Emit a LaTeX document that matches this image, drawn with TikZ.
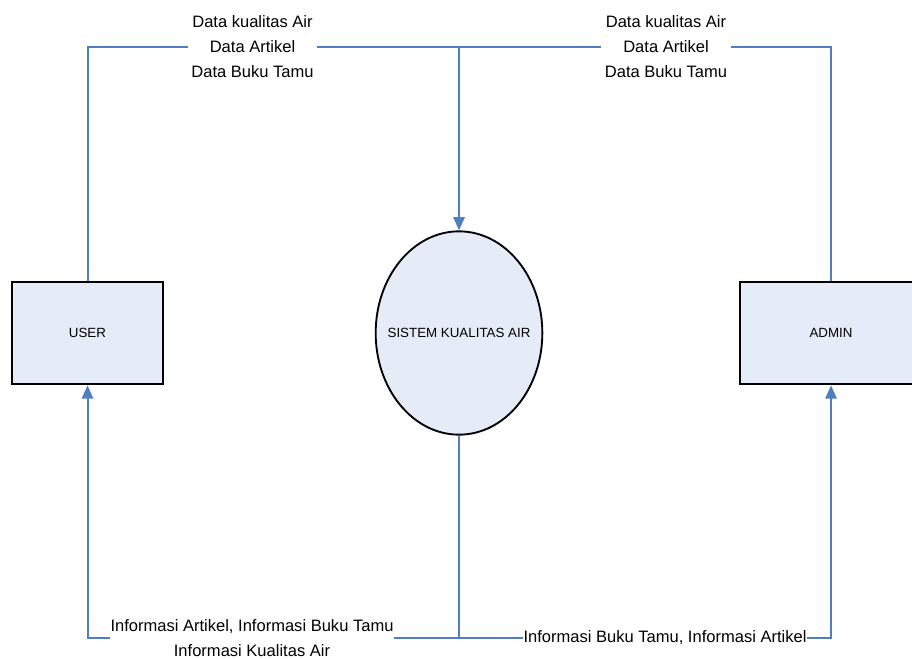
\documentclass[tikz,border=0pt]{standalone}
\usepackage{fontspec}
\setmainfont{Liberation Sans}
\usepackage{xcolor}
\usepackage{tikz}
\usetikzlibrary{arrows.meta,shapes.geometric}
\definecolor{flowblue}{HTML}{4F7EC2}
\definecolor{boxfill}{HTML}{E6ECF7}

\begin{document}
\begin{tikzpicture}[x=0.75pt,y=-0.75pt,
        every node/.style={font=\fontsize{10}{12}\selectfont},
        entity/.style={draw=black,line width=1.5pt,fill=boxfill,minimum height=77pt},
        flow/.style={draw=flowblue,line width=1.5pt},
        flowarrow/.style={flow,-{Triangle[length=10pt,width=8.5pt]}},
        flowlabel/.style={fill=white,align=center,inner xsep=2.5pt,inner ysep=0pt,
            font=\fontsize{12.4}{18.75}\selectfont}]
        \useasboundingbox (0,0) rectangle (912,659);
        % entities and process
        \node[entity,minimum width=113pt] (user) at (87.5,333) {USER};
        \node[entity,minimum width=136.5pt] (admin) at (831,333) {ADMIN};
        \node[ellipse,draw=black,line width=1.4pt,fill=boxfill,minimum width=125pt,
            minimum height=152.5pt,inner sep=0pt] (sistem) at (459,333)
            {\makebox[0pt]{SISTEM KUALITAS AIR}};
        % flow labels
        \node[flowlabel] (dUser) at (252.5,47) {Data kualitas Air\\Data Artikel\\Data Buku Tamu};
        \node[flowlabel] (dAdmin) at (666,47) {Data kualitas Air\\Data Artikel\\Data Buku Tamu};
        \node[flowlabel,inner xsep=0pt] (iUser) at (252,638)
            {Informasi Artikel, Informasi Buku Tamu\\Informasi Kualitas Air};
        \node[flowlabel,inner xsep=0pt] (iAdmin) at (665,638)
            {Informasi Buku Tamu, Informasi Artikel};
        \coordinate (top) at (459,47);
        \coordinate (bottom) at (459,638);
        % data flows
        \draw[flow] (user.north) |- (dUser.west);
        \draw[flow] (dUser.east) -- (dAdmin.west);
        \draw[flow] (dAdmin.east) -| (admin.north);
        \draw[flowarrow] (top) -- (sistem.north);
        \draw[flow] (sistem.south) -- (bottom);
        \draw[flowarrow] (iUser.west) -| (user.south);
        \draw[flow] (iUser.east) -- (iAdmin.west);
        \draw[flowarrow] (iAdmin.east) -| (admin.south);
    \end{tikzpicture}
\end{document}
